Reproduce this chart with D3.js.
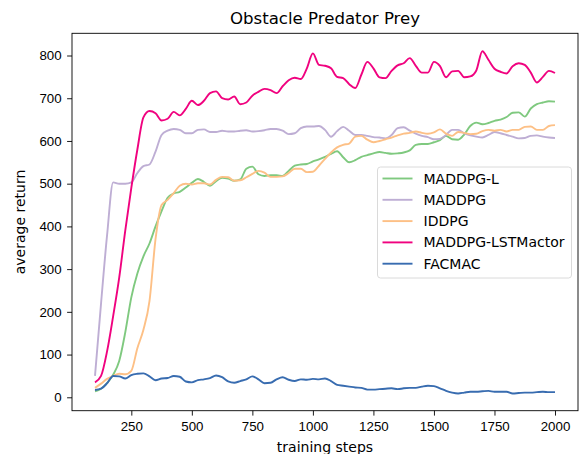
<!DOCTYPE html>
<html>
<head>
<meta charset="utf-8">
<script src="https://cdn.jsdelivr.net/npm/d3@7"></script>
<style>
body { margin:0; background:#fff; }
svg { font-family: "DejaVu Sans", sans-serif; }
.tick text { font-size:13.3px; fill:#000; }
.title { font-size:16.6px; }
.label { font-size:14px; }
.legend text { font-size:14px; }
</style>
</head>
<body>
<svg id="chart"></svg>
<script>
var steps = d3.range(100, 2001, 25)

var maddpgL = [14,20,33,53,85,152,234,290,330,360,400,436,467,477,481,491,502,511,504,495,
    506,514,512,507,510,535,540,522,518,520,520,518,530,542,545,546,552,557,563,570,
    576,562,550,555,563,567,571,574,572,570,571,573,578,591,593,593,597,602,612,604,
    603,615,635,643,639,642,647,650,656,666,667,657,676,686,690,693,692]

var maddpg = [50,220,380,503,500,500,503,525,541,545,575,614,624,628,626,618,618,626,627,621,
    621,624,622,622,624,625,622,623,625,628,628,624,616,618,630,634,634,635,626,610,
    623,633,624,614,614,612,609,608,606,614,630,632,624,617,612,609,604,605,614,626,
    626,618,613,610,608,614,621,618,614,610,606,607,612,613,610,608,607]

var iddpg = [22,32,43,50,55,54,62,115,158,225,370,450,462,478,495,500,498,501,501,498,
    509,516,515,507,508,515,523,530,526,516,516,517,525,535,535,527,528,542,558,573,
    585,591,594,610,612,603,597,600,604,608,613,617,619,622,619,617,620,627,617,612,
    621,619,616,617,623,626,624,626,622,626,626,633,634,626,626,635,637]

var lstmActor = [35,50,108,190,280,390,490,580,655,670,665,648,652,668,660,675,694,684,694,712,
    716,700,697,704,686,690,706,715,722,719,712,728,742,748,745,770,805,778,776,770,
    750,747,733,724,755,785,770,749,747,764,777,782,794,776,760,760,785,775,749,763,
    764,749,751,765,810,790,769,762,758,775,782,778,760,737,750,764,759]

var facmac = [17,20,33,50,49,44,52,55,56,49,40,44,45,50,48,37,35,40,42,45,
    51,47,37,34,38,42,49,42,33,34,42,47,41,38,42,41,43,42,44,38,
    29,27,25,23,22,18,18,19,20,21,19,21,22,22,25,27,26,21,15,11,
    9,11,13,13,14,15,13,13,13,9,10,11,11,12,13,12,12]

var names = ["MADDPG-L","MADDPG","IDDPG","MADDPG-LSTMactor","FACMAC"]
var colors = ["#7fc97f","#beaed4","#fdc086","#f0027f","#386cb0"]
var seriesValues = [maddpgL, maddpg, iddpg, lstmActor, facmac]
var xTicks = [250,500,750,1000,1250,1500,1750,2000]
var yTicks = [0,100,200,300,400,500,600,700,800]

var screen = {width:584, height:454}
var margins = {top:33.3, bottom:43.3, left:72, right:6}
var graph = {
    width:screen.width-margins.left-margins.right,
    height:screen.height-margins.top-margins.bottom
}

var target = d3.select("#chart")
    .attr("width", screen.width)
    .attr("height", screen.height)

var xScale = d3.scaleLinear()
    .domain([5, 2095])
    .range([0, graph.width])
var yScale = d3.scaleLinear()
    .domain([-31.4, 852])
    .range([graph.height, 0])

var g = target.append("g")
    .classed("graph", true)
    .attr("transform", "translate("+margins.left+","+margins.top+")")

var lineGenerator = d3.line()
    .x(function(d){return xScale(d.step)})
    .y(function(d){return yScale(d.value)})
    .curve(d3.curveMonotoneX)

seriesValues.forEach(function(vals, i)
{
    var pts = steps.map(function(s, j){return {step:s, value:vals[j]}})
    g.append("path")
        .datum(pts)
        .attr("d", lineGenerator)
        .attr("fill", "none")
        .attr("stroke", colors[i])
        .attr("stroke-width", 1.9)
        .attr("stroke-linejoin", "round")
})

// axes
var xAxis = d3.axisBottom(xScale).tickValues(xTicks).tickSize(4.9).tickPadding(5.5).tickFormat(d3.format("d"))
var yAxis = d3.axisLeft(yScale).tickValues(yTicks).tickSize(4.9).tickPadding(5.5)

var xg = g.append("g")
    .attr("transform", "translate(0,"+graph.height+")")
    .call(xAxis)
var yg = g.append("g")
    .call(yAxis)
xg.select(".domain").remove()
yg.select(".domain").remove()
target.selectAll(".tick line").attr("stroke", "#000").attr("stroke-width", 0.9)

g.append("rect")
    .attr("width", graph.width)
    .attr("height", graph.height)
    .attr("fill", "none")
    .attr("stroke", "#000")
    .attr("stroke-width", 0.9)

// labels
target.append("text")
    .text("Obstacle Predator Prey")
    .classed("title", true)
    .attr("text-anchor", "middle")
    .attr("x", margins.left+graph.width/2)
    .attr("y", 23.5)
target.append("text")
    .text("training steps")
    .classed("label", true)
    .attr("text-anchor", "middle")
    .attr("x", margins.left+graph.width/2)
    .attr("y", 451.5)
target.append("g")
    .attr("transform", "translate(24.5,"+(margins.top+graph.height/2)+")")
    .append("text")
    .text("average return")
    .classed("label", true)
    .attr("text-anchor", "middle")
    .attr("transform", "rotate(270)")

// legend
var legend = target.append("g")
    .classed("legend", true)
    .attr("transform", "translate(377.5,167)")
legend.append("rect")
    .attr("width", 194)
    .attr("height", 111)
    .attr("rx", 3)
    .attr("fill", "#fff")
    .attr("fill-opacity", 0.8)
    .attr("stroke", "#d6d6d6")
    .attr("stroke-width", 0.9)
names.forEach(function(name, i)
{
    var y = 11.5 + i*21.3
    legend.append("line")
        .attr("x1", 5).attr("x2", 35)
        .attr("y1", y).attr("y2", y)
        .attr("stroke", colors[i])
        .attr("stroke-width", 1.9)
    legend.append("text")
        .text(name)
        .attr("x", 46)
        .attr("y", y+5)
})
</script>
</body>
</html>
